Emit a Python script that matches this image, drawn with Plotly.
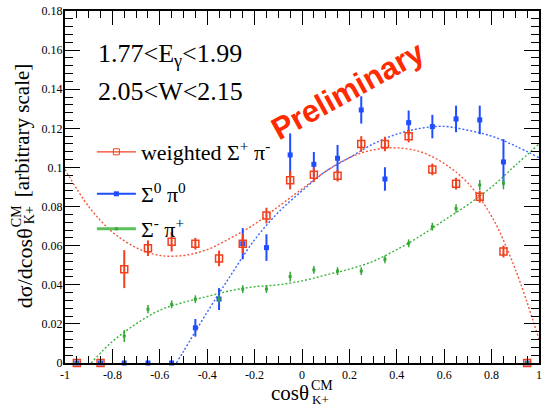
import plotly.graph_objects as go

# ---------------- data ----------------
cos_bins = [-0.95, -0.85, -0.75, -0.65, -0.55, -0.45, -0.35, -0.25, -0.15, -0.05,
            0.05, 0.15, 0.25, 0.35, 0.45, 0.55, 0.65, 0.75, 0.85, 0.95]

sigp_pim = [0, 0, 0.048, 0.0587, 0.062, 0.061, 0.0535, 0.061, 0.0754, 0.0935,
            0.0963, 0.0958, 0.112, 0.112, 0.116, 0.099, 0.0917, 0.085, 0.057, 0]
sigp_pim_err = [0, 0, 0.0097, 0.004, 0.005, 0.003, 0.004, 0.005, 0.004, 0.0047,
                0.0038, 0.003, 0.004, 0.0037, 0.0032, 0.003, 0.003, 0.003, 0.003, 0]

sig0_pi0 = [0, 0, 0, 0, 0, 0.018, 0.0327, 0.061, 0.059, 0.1064,
            0.1016, 0.1047, 0.1294, 0.0941, 0.1229, 0.1209, 0.1248, 0.1243, 0.1028, 0]
sig0_pi0_err = [0, 0, 0, 0, 0, 0.0045, 0.0056, 0.008, 0.0068, 0.011,
                0.0063, 0.0068, 0.007, 0.006, 0.0062, 0.006, 0.0068, 0.0073, 0.0117, 0]

sigm_pip = [0, 0, 0.0138, 0.0275, 0.030, 0.0326, 0.0327, 0.0378, 0.0378, 0.0442,
            0.0476, 0.047, 0.047, 0.053, 0.0612, 0.0697, 0.079, 0.091, 0.092, 0]
sigm_pip_err = [0, 0, 0.0031, 0.0021, 0.002, 0.002, 0.002, 0.002, 0.002, 0.0025,
                0.002, 0.002, 0.002, 0.002, 0.002, 0.002, 0.0022, 0.0026, 0.0032, 0]

# fitted curves
fit_red_x = [-1.0, -0.9, -0.8, -0.7, -0.6, -0.5, -0.4, -0.3, -0.2, -0.1, 0.0,
             0.1, 0.2, 0.3, 0.4, 0.5, 0.6, 0.7, 0.8, 0.9, 1.0]
fit_red_y = [0.099, 0.080, 0.067, 0.059, 0.055, 0.055, 0.058, 0.064, 0.071, 0.080, 0.089,
             0.098, 0.105, 0.109, 0.110, 0.108, 0.102, 0.092, 0.075, 0.048, 0.012]

fit_blue_x = [-0.53, -0.5, -0.4, -0.3, -0.2, -0.1, 0.0, 0.1, 0.2, 0.3, 0.4,
              0.5, 0.6, 0.7, 0.8, 0.9, 1.0]
fit_blue_y = [0.0, 0.006, 0.026, 0.045, 0.063, 0.077, 0.088, 0.098, 0.105, 0.112, 0.117,
              0.120, 0.121, 0.119, 0.116, 0.111, 0.105]

fit_green_x = [-0.89, -0.8, -0.7, -0.6, -0.5, -0.4, -0.3, -0.2, -0.1, 0.0, 0.1,
               0.2, 0.3, 0.4, 0.5, 0.6, 0.7, 0.8, 0.9, 1.0]
fit_green_y = [0.0, 0.011, 0.020, 0.027, 0.031, 0.034, 0.037, 0.039, 0.040, 0.042, 0.045,
               0.048, 0.052, 0.058, 0.065, 0.073, 0.081, 0.090, 0.101, 0.112]

x_ticks = [-1, -0.8, -0.6, -0.4, -0.2, 0, 0.2, 0.4, 0.6, 0.8, 1]
x_tick_labels = ["-1", "-0.8", "-0.6", "-0.4", "-0.2", "0", "0.2", "0.4", "0.6", "0.8", "1"]

legend_names = ["weighted Σ<sup>+</sup> π<sup>-</sup>", "Σ<sup>0</sup> π<sup>0</sup>",
                "Σ<sup>-</sup> π<sup>+</sup>"]

# ---------------- style ----------------
RED = "#f2401f"
BLUE = "#1f4dff"
GREEN = "#35a835"
SERIF = "Liberation Serif, Times New Roman, Times, serif"

L, R, T, B = 65, 2, 11, 44
W, H = 543, 407
PW, PH = W - L - R, H - T - B


def px(xp):
    return (xp - L) / PW


def py(yp):
    return (H - B - yp) / PH


fig = go.Figure()

# fit curves
for fx, fy, col in [(fit_red_x, fit_red_y, "#f5553a"),
                    (fit_blue_x, fit_blue_y, "#3a63ff"),
                    (fit_green_x, fit_green_y, "#3cb43c")]:
    fig.add_trace(go.Scatter(x=fx, y=fy, mode="lines", line_shape="spline",
                             line=dict(color=col, width=1.4, dash="2px,2px"),
                             showlegend=False, hoverinfo="skip"))

# data points
fig.add_trace(go.Scatter(x=cos_bins, y=sig0_pi0, mode="markers", showlegend=False,
                         marker=dict(symbol="square", size=5, color=BLUE),
                         error_y=dict(type="data", array=sig0_pi0_err, color=BLUE,
                                      thickness=2, width=0),
                         cliponaxis=False))
fig.add_trace(go.Scatter(x=cos_bins, y=sigm_pip, mode="markers", showlegend=False,
                         marker=dict(symbol="square", size=3, color=GREEN),
                         error_y=dict(type="data", array=sigm_pip_err, color=GREEN,
                                      thickness=1.5, width=0),
                         cliponaxis=False))
fig.add_trace(go.Scatter(x=cos_bins, y=sigp_pim, mode="markers", showlegend=False,
                         marker=dict(symbol="square-open", size=7, color=RED,
                                     line=dict(width=1.5, color=RED)),
                         error_y=dict(type="data", array=sigp_pim_err, color=RED,
                                      thickness=2, width=0),
                         cliponaxis=False))

# legend entries (one legend box per row)
fig.add_trace(go.Scatter(x=[None], y=[None], mode="lines+markers",
                         name=legend_names[0], legend="legend",
                         line=dict(color=RED, width=1.2),
                         marker=dict(symbol="square-open", size=6, color=RED)))
fig.add_trace(go.Scatter(x=[None], y=[None], mode="lines+markers",
                         name=legend_names[1], legend="legend2",
                         line=dict(color=BLUE, width=2),
                         marker=dict(symbol="square", size=5, color=BLUE)))
fig.add_trace(go.Scatter(x=[None], y=[None], mode="lines+markers",
                         name=legend_names[2], legend="legend3",
                         line=dict(color="#5cc05c", width=3),
                         marker=dict(symbol="square", size=3, color=GREEN)))

axis_common = dict(showline=True, linecolor="black", linewidth=2, mirror="allticks",
                   ticks="inside", tickcolor="black", tickwidth=1,
                   showgrid=False, zeroline=False,
                   tickfont=dict(family=SERIF, size=12, color="black"))

fig.update_xaxes(range=[-1, 1], tickvals=x_ticks, ticktext=x_tick_labels, ticklen=14,
                 ticklabelstandoff=0,
                 minor=dict(dtick=0.05, tick0=-1, ticklen=7, ticks="inside",
                            tickcolor="black", tickwidth=1, showgrid=False),
                 **axis_common)
fig.update_yaxes(range=[0, 0.18], dtick=0.02, tick0=0, ticklen=15,
                 ticklabelstandoff=-2,
                 minor=dict(dtick=0.004, tick0=0, ticklen=8, ticks="inside",
                            tickcolor="black", tickwidth=1, showgrid=False),
                 **axis_common)

ann = []
# kinematic labels
ann.append(dict(text="1.77&lt;E<sub>γ</sub>&lt;1.99", x=px(96), y=py(55), xref="paper",
                yref="paper", xanchor="left", yanchor="middle", showarrow=False,
                font=dict(family=SERIF, size=26, color="black")))
ann.append(dict(text="2.05&lt;W&lt;2.15", x=px(96), y=py(91), xref="paper",
                yref="paper", xanchor="left", yanchor="middle", showarrow=False,
                font=dict(family=SERIF, size=26, color="black")))
# preliminary
ann.append(dict(text="<b>Preliminary</b>", x=px(349), y=py(90), xref="paper", yref="paper",
                xanchor="center", yanchor="middle", showarrow=False, textangle=-29,
                font=dict(family="Liberation Sans, Arial, sans-serif", size=31,
                          color="#ff2a00")))
# x title
ann.append(dict(text="cosθ", x=px(291), y=py(393), xref="paper", yref="paper",
                xanchor="center", yanchor="middle", showarrow=False,
                font=dict(family=SERIF, size=21, color="black")))
ann.append(dict(text="CM", x=px(323), y=py(385), xref="paper", yref="paper",
                xanchor="center", yanchor="middle", showarrow=False,
                font=dict(family=SERIF, size=14, color="black")))
ann.append(dict(text="K+", x=px(322), y=py(399), xref="paper", yref="paper",
                xanchor="center", yanchor="middle", showarrow=False,
                font=dict(family=SERIF, size=13, color="black")))
# y title
ann.append(dict(text="dσ/dcosθ", x=px(24), y=py(268), xref="paper", yref="paper",
                xanchor="center", yanchor="middle", showarrow=False, textangle=-90,
                font=dict(family=SERIF, size=22, color="black")))
ann.append(dict(text="CM", x=px(16), y=py(216), xref="paper", yref="paper",
                xanchor="center", yanchor="middle", showarrow=False, textangle=-90,
                font=dict(family=SERIF, size=14, color="black")))
ann.append(dict(text="K+", x=px(29), y=py(215), xref="paper", yref="paper",
                xanchor="center", yanchor="middle", showarrow=False, textangle=-90,
                font=dict(family=SERIF, size=14, color="black")))
ann.append(dict(text="[arbitrary scale]", x=px(22), y=py(130), xref="paper", yref="paper",
                xanchor="center", yanchor="middle", showarrow=False, textangle=-90,
                font=dict(family=SERIF, size=21, color="black")))

leg_common = dict(xanchor="left", yanchor="middle", bgcolor="rgba(0,0,0,0)",
                  borderwidth=0, itemwidth=39,
                  font=dict(family=SERIF, size=22, color="black"))

fig.update_layout(
    width=W, height=H,
    margin=dict(l=L, r=R, t=T, b=B, pad=0),
    paper_bgcolor="white", plot_bgcolor="white",
    annotations=ann,
    showlegend=True,
    legend=dict(x=px(92), y=py(152), **leg_common),
    legend2=dict(x=px(92), y=py(194), **leg_common),
    legend3=dict(x=px(92), y=py(229), **leg_common),
)

fig.write_html("out.html")
